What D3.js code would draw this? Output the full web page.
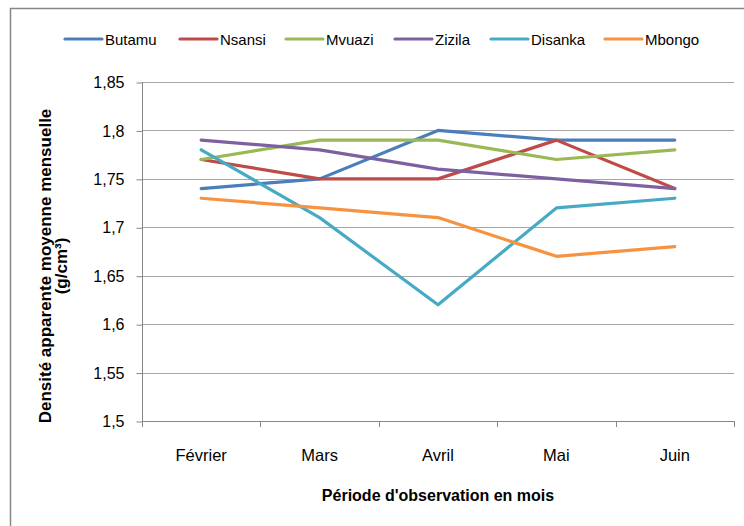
<!DOCTYPE html>
<html>
<head>
<meta charset="utf-8">
<script src="https://cdn.jsdelivr.net/npm/d3@7"></script>
<style>
  body { margin: 0; background: #fff; }
  svg text { font-family: "Liberation Sans", sans-serif; fill: #000; }
</style>
</head>
<body>
<svg id="chart" width="744" height="526"></svg>
<script>
var months = ["Février", "Mars", "Avril", "Mai", "Juin"];
var seriesNames = ["Butamu", "Nsansi", "Mvuazi", "Zizila", "Disanka", "Mbongo"];
var colors = ["#4a7ebb", "#be4b48", "#98b954", "#7d60a0", "#46aac5", "#f69240"];

var butamu  = [1.74, 1.75, 1.80, 1.79, 1.79];
var nsansi  = [1.77, 1.75, 1.75, 1.79, 1.74];
var mvuazi  = [1.77, 1.79, 1.79, 1.77, 1.78];
var zizila  = [1.79, 1.78, 1.76, 1.75, 1.74];
var disanka = [1.78, 1.71, 1.62, 1.72, 1.73];
var mbongo  = [1.73, 1.72, 1.71, 1.67, 1.68];

var yTicks = [1.5, 1.55, 1.6, 1.65, 1.7, 1.75, 1.8, 1.85];

var allSeries = [butamu, nsansi, mvuazi, zizila, disanka, mbongo];

var svg = d3.select("#chart");

// outer chart border
svg.append("rect")
    .attr("x", 10.5).attr("y", 8.5)
    .attr("width", 760).attr("height", 560)
    .attr("fill", "none")
    .attr("stroke", "#868686")
    .attr("stroke-width", 1.5);

var plotLeft = 142, plotRight = 734, plotTop = 82, plotBottom = 421;

var x = d3.scaleBand().domain(months).range([plotLeft, plotRight]);
var y = d3.scaleLinear().domain([1.5, 1.85]).range([plotBottom, plotTop]);

// gridlines
svg.append("g")
    .selectAll("line")
    .data(yTicks)
    .enter()
    .append("line")
    .attr("x1", plotLeft).attr("x2", plotRight)
    .attr("y1", d => Math.round(y(d)) + 0.5)
    .attr("y2", d => Math.round(y(d)) + 0.5)
    .attr("stroke", "#a6a6a6")
    .attr("stroke-width", 1.2);

// y axis
var yAxis = d3.axisLeft(y)
    .tickValues(yTicks)
    .tickSize(6)
    .tickPadding(12)
    .tickFormat(d => d3.format(".3~f")(d).replace(".", ","));

var gy = svg.append("g")
    .attr("transform", "translate(" + (plotLeft + 0.5) + ",0.5)")
    .call(yAxis);
gy.selectAll("path, line").attr("stroke", "#868686");
gy.select(".domain").attr("d", "M0," + (plotTop - 0.5) + "V" + (plotBottom - 0.5));
gy.selectAll("text").attr("font-size", 16).attr("fill", "#333").attr("font-family", "Liberation Sans, sans-serif");

// x axis with ticks at category boundaries
svg.append("line")
    .attr("x1", plotLeft).attr("x2", plotRight)
    .attr("y1", plotBottom + 0.5).attr("y2", plotBottom + 0.5)
    .attr("stroke", "#868686");

var boundaries = months.map(m => x(m)).concat([plotRight]);
svg.append("g")
    .selectAll("line")
    .data(boundaries)
    .enter()
    .append("line")
    .attr("x1", d => Math.round(d) + 0.5).attr("x2", d => Math.round(d) + 0.5)
    .attr("y1", plotBottom).attr("y2", plotBottom + 6)
    .attr("stroke", "#868686");

svg.append("g")
    .selectAll("text")
    .data(months)
    .enter()
    .append("text")
    .attr("x", d => x(d) + x.bandwidth() / 2)
    .attr("y", 461)
    .attr("text-anchor", "middle")
    .attr("font-size", 16.5)
    .attr("fill", "#333")
    .text(d => d);

// lines
var line = d3.line()
    .x((d, i) => x(months[i]) + x.bandwidth() / 2)
    .y(d => y(d));

svg.append("g")
    .selectAll("path")
    .data(allSeries)
    .enter()
    .append("path")
    .attr("d", d => line(d))
    .attr("fill", "none")
    .attr("stroke", (d, i) => colors[i])
    .attr("stroke-width", 3.2)
    .attr("stroke-linecap", "round")
    .attr("stroke-linejoin", "round");

// legend
var legendX = [65, 180, 286, 395, 491, 605];
var lg = svg.append("g")
    .selectAll("g")
    .data(seriesNames)
    .enter()
    .append("g")
    .attr("transform", (d, i) => "translate(" + legendX[i] + ",39)");
lg.append("line")
    .attr("x1", 0).attr("x2", 37)
    .attr("stroke", (d, i) => colors[i])
    .attr("stroke-width", 3.2)
    .attr("stroke-linecap", "round");
lg.append("text")
    .attr("x", 40).attr("y", 5.5)
    .attr("font-size", 15)
    .text(d => d);

// axis titles
svg.append("text")
    .attr("x", 438).attr("y", 501)
    .attr("text-anchor", "middle")
    .attr("font-size", 16)
    .attr("font-weight", "bold")
    .text("Période d'observation en mois");

var yt = svg.append("text")
    .attr("transform", "translate(51,266) rotate(-90)")
    .attr("text-anchor", "middle")
    .attr("font-size", 17)
    .attr("font-weight", "bold");
yt.append("tspan").attr("x", 0).attr("dy", 0).text("Densité apparente moyenne mensuelle");
yt.append("tspan").attr("x", 0).attr("dy", 16).text("(g/cm³)");
</script>
</body>
</html>
